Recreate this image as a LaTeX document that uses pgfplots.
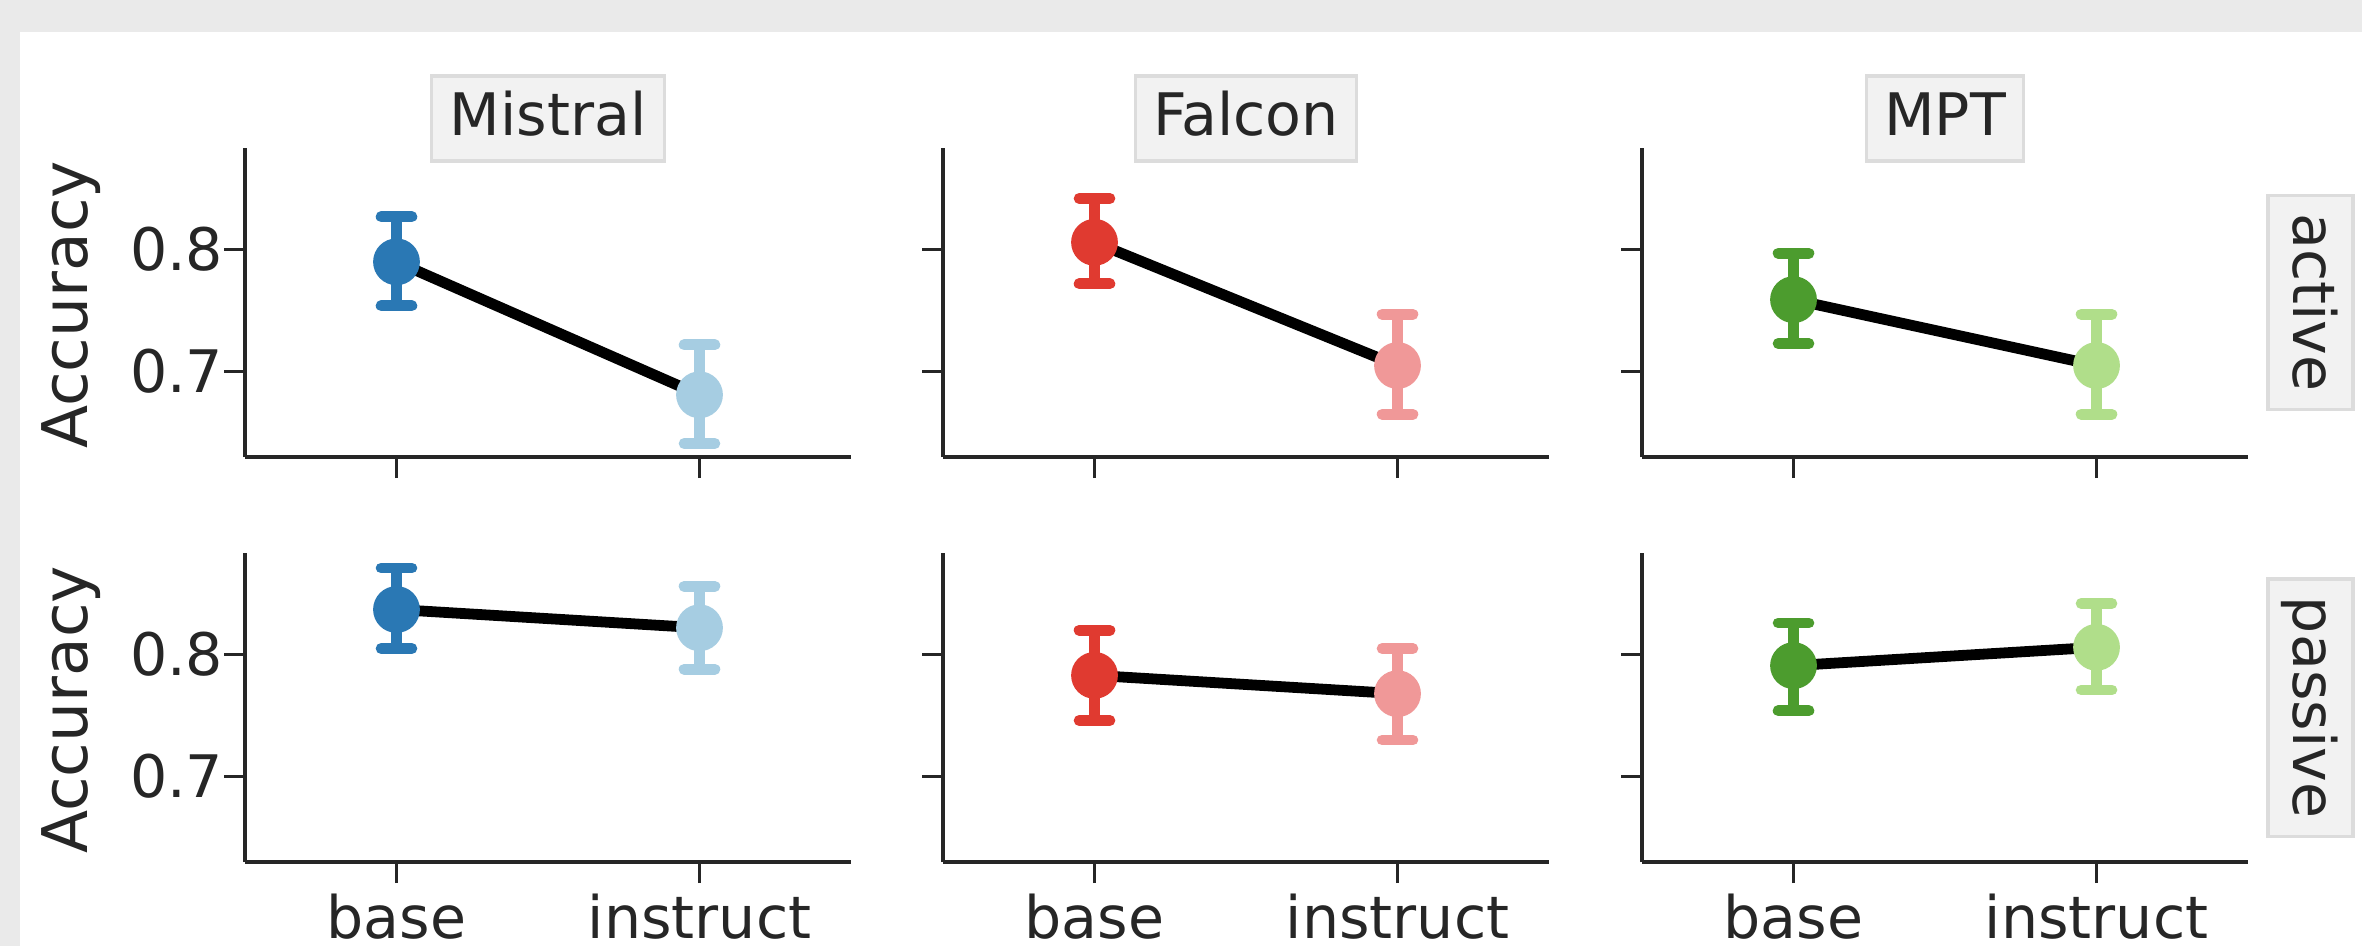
\documentclass[border=0pt]{standalone}
\usepackage{fontspec}
\setmainfont{DejaVu Sans}
\usepackage{pgfplots}
\pgfplotsset{compat=1.18}
\definecolor{axgray}{HTML}{262626}
\definecolor{bgray}{HTML}{EAEAEA}
\definecolor{boxfill}{HTML}{F2F2F2}
\definecolor{boxdraw}{HTML}{DCDCDC}
\definecolor{mistralA}{HTML}{2A78B4}
\definecolor{mistralB}{HTML}{A6CDE2}
\definecolor{falconA}{HTML}{E03A30}
\definecolor{falconB}{HTML}{F09898}
\definecolor{mptA}{HTML}{4C9C2E}
\definecolor{mptB}{HTML}{B0DE8A}
\newcommand{\fs}{\fontsize{14.65}{17}\selectfont}
\newcommand{\fl}{\fontsize{15.75}{18}\selectfont}
\tikzset{
  facetbox/.style={fill=boxfill, draw=boxdraw, line width=0.8pt, font=\fs, text=axgray,
    inner xsep=4.5pt, inner ysep=0pt, text height=14.85pt, text depth=6.4pt},
  ylab/.style={rotate=90, anchor=base, font=\fl, text=axgray},
}
\pgfplotsset{
  facet/.style={
    scale only axis, width=151.5pt, height=77.25pt,
    xmin=-0.5, xmax=1.5, ymin=0.630, ymax=0.8833,
    axis x line*=bottom, axis y line*=left,
    axis line style={line width=0.8pt, axgray},
    xtick={0,1}, ytick={0.7,0.8},
    tick align=outside, major tick length=5.25pt,
    tick style={line width=0.8pt, axgray},
    ticklabel style={font=\fs, text=axgray},
    xticklabel style={anchor=north, inner sep=0pt, yshift=-2.6pt},
    yticklabel style={anchor=east, inner sep=0pt},
    /pgf/number format/assume math mode=true,
    anchor=south west, clip=false,
  },
  noylab/.style={yticklabels={,,}},
  yes ylab/.style={yticklabels={0.7,0.8}},
  noxlab/.style={xticklabels={,,}},
  yes xlab/.style={xticklabels={base,instruct}},
  pt/.style={only marks, mark=*, mark size=5.65pt, color=#1,
    mark options={draw=#1, fill=#1, line width=0.4pt},
    error bars/.cd, y dir=both, y explicit,
    error bar style={line width=2.6pt, color=#1},
    error mark options={rotate=90, mark size=3.85pt, line width=2.7pt, line cap=round, color=#1}},
  conn/.style={black, line width=2.7pt, no marks},
}
\begin{document}
\begin{tikzpicture}
\useasboundingbox (0,0) rectangle (590.5pt,236.5pt);
\fill[bgray] (0,0) rectangle (590.5pt,236.5pt);
\fill[white] (5pt,0) rectangle (590.5pt,228.5pt);

% ---------- Row 1: active ----------
\begin{axis}[facet, at={(61.25pt,122.25pt)}, yes ylab, noxlab]
\addplot[conn] coordinates {(0,0.790) (1,0.681)};
\addplot[pt=mistralA] coordinates {(0,0.790) += (0,0.037) -= (0,0.036)};
\addplot[pt=mistralB] coordinates {(1,0.681) += (0,0.041) -= (0,0.040)};
\node[facetbox] at ([yshift=7.4pt]rel axis cs:0.5,1) {Mistral};
\node[ylab] at ([xshift=-39.25pt,yshift=-0.6pt]rel axis cs:0,0.5) {Accuracy};
\end{axis}

\begin{axis}[facet, at={(235.75pt,122.25pt)}, noylab, noxlab]
\addplot[conn] coordinates {(0,0.806) (1,0.705)};
\addplot[pt=falconA] coordinates {(0,0.806) += (0,0.036) -= (0,0.034)};
\addplot[pt=falconB] coordinates {(1,0.705) += (0,0.042) -= (0,0.040)};
\node[facetbox] at ([yshift=7.4pt]rel axis cs:0.5,1) {Falcon};
\end{axis}

\begin{axis}[facet, at={(410.5pt,122.25pt)}, noylab, noxlab]
\addplot[conn] coordinates {(0,0.759) (1,0.705)};
\addplot[pt=mptA] coordinates {(0,0.759) += (0,0.038) -= (0,0.036)};
\addplot[pt=mptB] coordinates {(1,0.705) += (0,0.042) -= (0,0.040)};
\node[facetbox] at ([yshift=7.4pt]rel axis cs:0.5,1) {MPT};
\node[facetbox, rotate=-90] at ([xshift=15.6pt]rel axis cs:1,0.5) {active};
\end{axis}

% ---------- Row 2: passive ----------
\begin{axis}[facet, at={(61.25pt,21pt)}, yes ylab, yes xlab]
\addplot[conn] coordinates {(0,0.837) (1,0.822)};
\addplot[pt=mistralA] coordinates {(0,0.837) += (0,0.034) -= (0,0.032)};
\addplot[pt=mistralB] coordinates {(1,0.822) += (0,0.034) -= (0,0.034)};
\node[ylab] at ([xshift=-39.25pt,yshift=-0.6pt]rel axis cs:0,0.5) {Accuracy};
\end{axis}

\begin{axis}[facet, at={(235.75pt,21pt)}, noylab, yes xlab]
\addplot[conn] coordinates {(0,0.783) (1,0.768)};
\addplot[pt=falconA] coordinates {(0,0.783) += (0,0.037) -= (0,0.037)};
\addplot[pt=falconB] coordinates {(1,0.768) += (0,0.037) -= (0,0.038)};
\end{axis}

\begin{axis}[facet, at={(410.5pt,21pt)}, noylab, yes xlab]
\addplot[conn] coordinates {(0,0.791) (1,0.806)};
\addplot[pt=mptA] coordinates {(0,0.791) += (0,0.035) -= (0,0.037)};
\addplot[pt=mptB] coordinates {(1,0.806) += (0,0.036) -= (0,0.035)};
\node[facetbox, rotate=-90] at ([xshift=15.6pt]rel axis cs:1,0.5) {passive};
\end{axis}
\end{tikzpicture}
\end{document}
